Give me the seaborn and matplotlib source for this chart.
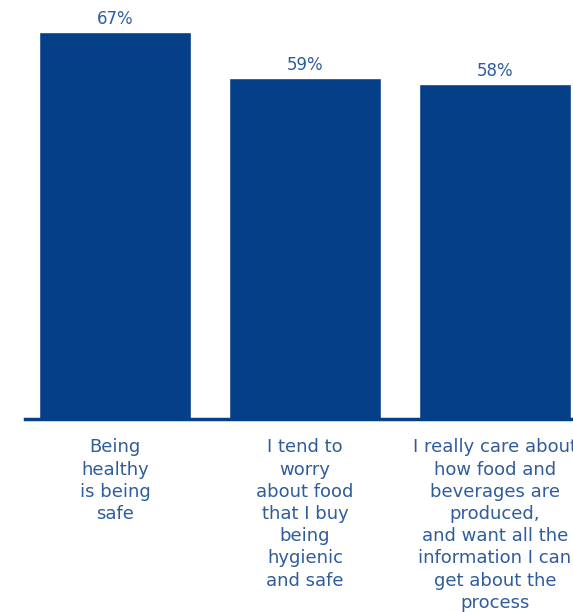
import matplotlib
matplotlib.use("Agg")
import matplotlib.pyplot as plt
import seaborn as sns
import pandas as pd

categories = [
    "Being\nhealthy\nis being\nsafe",
    "I tend to\nworry\nabout food\nthat I buy\nbeing\nhygienic\nand safe",
    "I really care about\nhow food and\nbeverages are\nproduced,\nand want all the\ninformation I can\nget about the\nprocess",
]
values = [67, 59, 58]
value_labels = ["67%", "59%", "58%"]

bar_color = "#053f87"
text_color = "#2f5c9c"

sns.set_theme(style="white")
plt.rcParams["font.family"] = ["DejaVu Sans"]

df = pd.DataFrame({"cat": categories, "val": values})

fig = plt.figure(figsize=(5.73, 6.12), dpi=100)
ax = fig.add_axes([25 / 573, 193 / 612, 548 / 573, 419 / 612])

sns.barplot(data=df, x="cat", y="val", color=bar_color, saturation=1, width=0.8, ax=ax)

ax.set_xlim(-0.5 + 5 / 190, -0.5 + 5 / 190 + 548 / 190)
ax.set_ylim(0, 419 / 5.78)

for c in ax.containers:
    ax.bar_label(c, labels=value_labels, padding=3, color=text_color, fontsize=12)

for s in ["top", "right", "left"]:
    ax.spines[s].set_visible(False)
ax.spines["bottom"].set_color(bar_color)
ax.spines["bottom"].set_linewidth(2.5)
ax.set_yticks([])
ax.set_xlabel("")
ax.set_ylabel("")
ax.tick_params(axis="x", length=0, pad=14, labelsize=13, labelcolor=text_color)
for t in ax.get_xticklabels():
    t.set_linespacing(1.3)
    t.set_horizontalalignment("center")

fig.savefig("out.png", dpi=100)
